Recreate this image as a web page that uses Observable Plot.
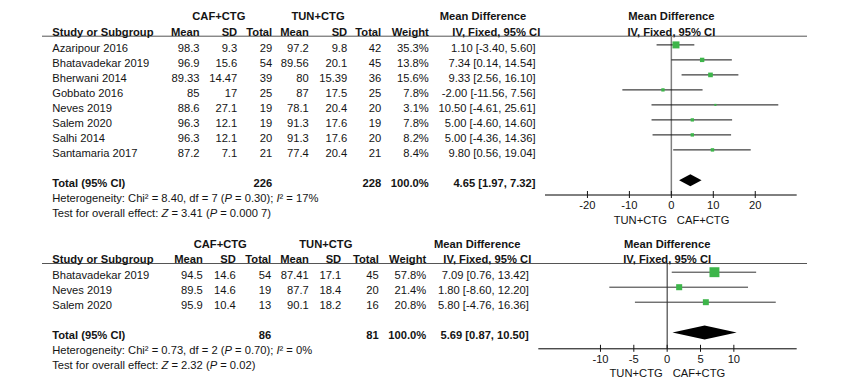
<!DOCTYPE html>
<html>
<head>
<meta charset="utf-8">
<script src="https://cdn.jsdelivr.net/npm/d3@7"></script>
<script src="https://cdn.jsdelivr.net/npm/@observablehq/plot@0.6"></script>
<style>
  html, body { margin: 0; padding: 0; background: #fff; }
  #chart svg { display: block; }
</style>
</head>
<body>
<div id="chart"></div>
<script>
// ---------- Panel 1 data ----------
const studies1 = ["Azaripour 2016", "Bhatavadekar 2019", "Bherwani 2014", "Gobbato 2016", "Neves 2019", "Salem 2020", "Salhi 2014", "Santamaria 2017"];
const cafMean1 = [98.3, 96.9, 89.33, 85, 88.6, 96.3, 96.3, 87.2];
const cafSD1   = [9.3, 15.6, 14.47, 17, 27.1, 12.1, 12.1, 7.1];
const cafN1    = [29, 54, 39, 25, 19, 19, 20, 21];
const tunMean1 = [97.2, 89.56, 80, 87, 78.1, 91.3, 91.3, 77.4];
const tunSD1   = [9.8, 20.1, 15.39, 17.5, 20.4, 17.6, 17.6, 20.4];
const tunN1    = [42, 45, 36, 25, 20, 19, 20, 21];
const weight1  = [35.3, 13.8, 15.6, 7.8, 3.1, 7.8, 8.2, 8.4];
const md1      = [1.10, 7.34, 9.33, -2.00, 10.50, 5.00, 5.00, 9.80];
const lo1      = [-3.40, 0.14, 2.56, -11.56, -4.61, -4.60, -4.36, 0.56];
const hi1      = [5.60, 14.54, 16.10, 7.56, 25.61, 14.60, 14.36, 19.04];
const totalN1  = [226, 228];
const totalMD1 = [4.65, 1.97, 7.32];
const het1  = "Heterogeneity: Chi² = 8.40, df = 7 (P = 0.30); I² = 17%";
const test1 = "Test for overall effect: Z = 3.41 (P = 0.000 7)";
const ticks1 = [-20, -10, 0, 10, 20];

// ---------- Panel 2 data ----------
const studies2 = ["Bhatavadekar 2019", "Neves 2019", "Salem 2020"];
const cafMean2 = [94.5, 89.5, 95.9];
const cafSD2   = [14.6, 14.6, 10.4];
const cafN2    = [54, 19, 13];
const tunMean2 = [87.41, 87.7, 90.1];
const tunSD2   = [17.1, 18.4, 18.2];
const tunN2    = [45, 20, 16];
const weight2  = [57.8, 21.4, 20.8];
const md2      = [7.09, 1.80, 5.80];
const lo2      = [0.76, -8.60, -4.76];
const hi2      = [13.42, 12.20, 16.36];
const totalN2  = [86, 81];
const totalMD2 = [5.69, 0.87, 10.50];
const het2  = "Heterogeneity: Chi² = 0.73, df = 2 (P = 0.70); I² = 0%";
const test2 = "Test for overall effect: Z = 2.32 (P = 0.02)";
const ticks2 = [-10, -5, 0, 5, 10];

const groupLabels = ["CAF+CTG", "TUN+CTG"];
const colHeaders = ["Mean", "SD", "Total", "Mean", "SD", "Total", "Weight"];
const studyHeader = "Study or Subgroup";
const mdHeader = ["Mean Difference", "IV, Fixed, 95% CI"];
const totalLabel = "Total (95% CI)";
const totalWeight = "100.0%";

// ---------- layout ----------
const W = 853, ML = 42, MR = 46, STEP = 15;
const INK = "#141414", GREEN = "#3db54a";
const FONT = "'Liberation Sans', Arial, Helvetica, sans-serif";
const R_GROUP = -2.1, R_HEAD = -1.05, R_RULE = -0.8;

const panels = [
  {
    studies: studies1, cafMean: cafMean1, cafSD: cafSD1, cafN: cafN1,
    tunMean: tunMean1, tunSD: tunSD1, tunN: tunN1, weight: weight1,
    md: md1, lo: lo1, hi: hi1, totalN: totalN1, totalMD: totalMD1,
    het: het1, test: test1, ticks: ticks1,
    xDomain: [-30, 30], xRange: [545, 796.7],
    height: 228, y0: 47.7, axisPx: 194.5, rMax: 3.95, dH: 0.4,
    zeroStroke: "#808080", zeroWidth: 1.5, ciStroke: "#111",
    cols: {study: 51.7, m1: 199, sd1: 236.7, n1: 271.7, m2: 308.3, sd2: 346.7, n2: 380.7, w: 428.3, ci: 535,
           caf: 218.3, tun: 317.5, mdHead: 482.5, ivHead: 495.8}
  },
  {
    studies: studies2, cafMean: cafMean2, cafSD: cafSD2, cafN: cafN2,
    tunMean: tunMean2, tunSD: tunSD2, tunN: tunN2, weight: weight2,
    md: md2, lo: lo2, hi: hi2, totalN: totalN2, totalMD: totalMD2,
    het: het2, test: test2, ticks: ticks2,
    xDomain: [-19.25, 19.5], xRange: [538.3, 796.7],
    height: 164, y0: 47, axisPx: 120.3, rMax: 5.6, dH: 0.47,
    zeroStroke: "#222", zeroWidth: 1, ciStroke: "#333",
    cols: {study: 51.7, m1: 202.3, sd1: 235.3, n1: 270.7, m2: 308.3, sd2: 340.7, n2: 378.3, w: 425.7, ci: 528.3,
           caf: 219.7, tun: 325.3, mdHead: 476.7, ivHead: 486.8}
  }
];

function buildPanel(p) {
  const n = p.studies.length;
  const rows = p.studies.map((study, i) => ({
    row: i, study, m1: p.cafMean[i], sd1: p.cafSD[i], n1: p.cafN[i],
    m2: p.tunMean[i], sd2: p.tunSD[i], n2: p.tunN[i], w: p.weight[i],
    md: p.md[i], lo: p.lo[i], hi: p.hi[i]
  }));
  const tRow = n + 1;
  const total = [{row: tRow, study: totalLabel, n1: p.totalN[0], n2: p.totalN[1], w: totalWeight,
                  md: p.totalMD[0], lo: p.totalMD[1], hi: p.totalMD[2]}];
  const foot = [{row: tRow + 1, text: p.het}, {row: tRow + 2, text: p.test}];
  const axisRow = (p.axisPx - p.y0) / STEP;
  const C = p.cols;
  const T = (data, px, anchor, o) =>
    Plot.text(data, {frameAnchor: "left", dx: px - ML, textAnchor: anchor, fill: INK, ...o});
  const ciStr = d => `${d.md.toFixed(2)} [${d.lo.toFixed(2)}, ${d.hi.toFixed(2)}]`;
  const bodyKeys = ["m1", "sd1", "n1", "m2", "sd2", "n2"];
  const headKeys = ["m1", "sd1", "n1", "m2", "sd2", "n2", "w"];
  const diamond = [
    {y: tRow - p.dH, x1: p.totalMD[0], x2: p.totalMD[0]},
    {y: tRow, x1: p.totalMD[1], x2: p.totalMD[2]},
    {y: tRow + p.dH, x1: p.totalMD[0], x2: p.totalMD[0]}
  ];

  const marks = [
    Plot.ruleY([R_RULE], {stroke: "#555", strokeWidth: 1}),
    Plot.ruleX([0], {y1: R_RULE, y2: axisRow, stroke: p.zeroStroke, strokeWidth: p.zeroWidth}),
    Plot.ruleY([axisRow], {x1: p.xDomain[0], x2: p.xDomain[1], stroke: "#000"}),
    Plot.axisX({ticks: p.ticks, tickSize: 7, tickPadding: 3, dy: -3.5, tickFormat: d => String(d),
                label: null, fontSize: 11.2, fill: INK}),
    Plot.text([groupLabels[1]], {x: 0, y: axisRow + 25 / STEP, dx: -4.5, textAnchor: "end", text: d => d, fill: INK}),
    Plot.text([groupLabels[0]], {x: 0, y: axisRow + 25 / STEP, dx: 5.5, textAnchor: "start", text: d => d, fill: INK}),
    Plot.text([mdHeader[0]], {x: 0, y: R_GROUP, text: d => d, fontWeight: "bold", fill: INK}),
    Plot.text([mdHeader[1]], {x: 0, y: R_HEAD, text: d => d, fontWeight: "bold", fill: INK}),
    Plot.ruleY(rows, {y: "row", x1: "lo", x2: "hi", dy: -3.3, stroke: p.ciStroke, strokeWidth: 1}),
    Plot.dot(rows, {x: "md", y: "row", r: "w", symbol: "square", fill: GREEN, dy: -3.3}),
    Plot.areaX(diamond, {y: "y", x1: "x1", x2: "x2", fill: "#000", dy: -2.5}),
    T([groupLabels[0]], C.caf, "middle", {y: R_GROUP, text: d => d, fontWeight: "bold"}),
    T([groupLabels[1]], C.tun, "middle", {y: R_GROUP, text: d => d, fontWeight: "bold"}),
    T([mdHeader[0]], C.mdHead, "middle", {y: R_GROUP, text: d => d, fontWeight: "bold"}),
    T([mdHeader[1]], C.ivHead, "middle", {y: R_HEAD, text: d => d, fontWeight: "bold"}),
    T([studyHeader], C.study, "start", {y: R_HEAD, text: d => d, fontWeight: "bold"}),
    ...headKeys.map((k, i) => T([colHeaders[i]], C[k], "end", {y: R_HEAD, text: d => d, fontWeight: "bold"})),
    T(rows, C.study, "start", {y: "row", text: "study"}),
    ...bodyKeys.map(k => T(rows, C[k], "end", {y: "row", text: d => String(d[k])})),
    T(rows, C.w, "end", {y: "row", text: d => d.w.toFixed(1) + "%"}),
    T(rows, C.ci, "end", {y: "row", text: ciStr}),
    T(total, C.study, "start", {y: "row", text: "study", fontWeight: "bold"}),
    T(total, C.n1, "end", {y: "row", text: d => String(d.n1), fontWeight: "bold"}),
    T(total, C.n2, "end", {y: "row", text: d => String(d.n2), fontWeight: "bold"}),
    T(total, C.w, "end", {y: "row", text: "w", fontWeight: "bold"}),
    T(total, C.ci, "end", {y: "row", text: ciStr, fontWeight: "bold"}),
    T(foot, C.study, "start", {y: "row", text: "text"})
  ];

  const svg = Plot.plot({
    width: W, height: p.height,
    marginLeft: ML, marginRight: MR, marginTop: 0, marginBottom: p.height - p.axisPx,
    x: {domain: p.xDomain, range: p.xRange, label: null},
    y: {domain: [0, 1], range: [p.y0, p.y0 + STEP], axis: null},
    r: {type: "sqrt", domain: [0, d3.max(p.weight)], range: [0, p.rMax]},
    style: {fontFamily: FONT, fontSize: "11.2px", color: INK, background: "#fff", overflow: "visible"},
    marks
  });
  italicize(svg);
  return svg;
}

function italicize(svg) {
  const NS = "http://www.w3.org/2000/svg";
  svg.querySelectorAll("text").forEach(t => {
    const s = t.textContent;
    if (!/^(Heterogeneity|Test for overall)/.test(s)) return;
    t.textContent = "";
    const add = (str, it) => {
      if (!str) return;
      const ts = document.createElementNS(NS, "tspan");
      if (it) ts.setAttribute("font-style", "italic");
      ts.textContent = str;
      t.appendChild(ts);
    };
    const re = /\b[PZ](?= =)|\bI(?=²)/g;
    let last = 0, m;
    while ((m = re.exec(s))) {
      add(s.slice(last, m.index), false);
      add(m[0], true);
      last = m.index + m[0].length;
    }
    add(s.slice(last), false);
  });
}

const root = document.getElementById("chart");
panels.forEach(p => root.appendChild(buildPanel(p)));
</script>
</body>
</html>
